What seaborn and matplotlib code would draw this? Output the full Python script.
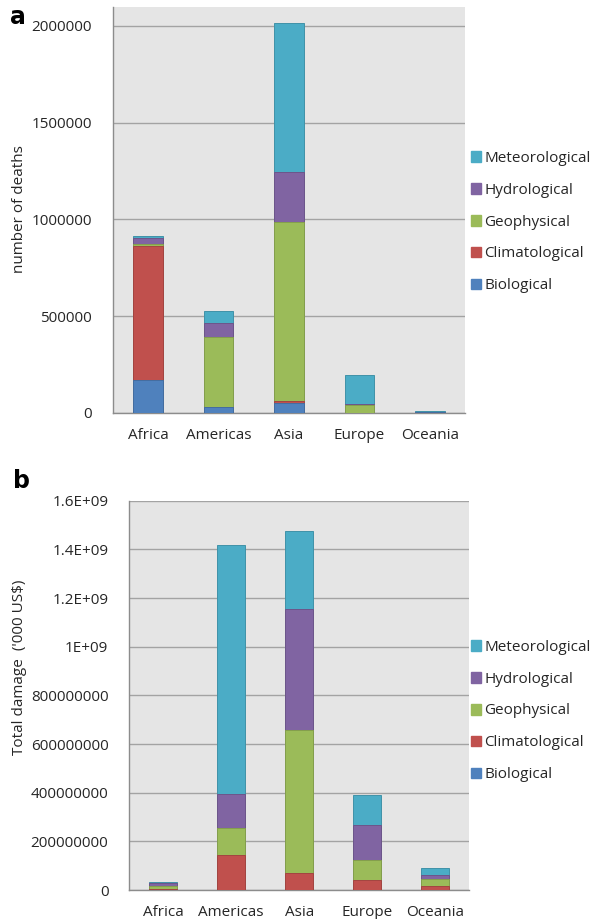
import numpy as np
import pandas as pd
import matplotlib
matplotlib.use("Agg")
import matplotlib.pyplot as plt
import seaborn as sns
from matplotlib.patches import Patch
import matplotlib.colors as mcolors

# ---- data -------------------------------------------------------------
regions = ["Africa", "Americas", "Asia", "Europe", "Oceania"]
hazards = ["Biological", "Climatological", "Geophysical", "Hydrological", "Meteorological"]
hazard_colors = ["#4F81BD", "#C0504D", "#9BBB59", "#8064A2", "#4BACC6"]

# number of deaths by hazard type
deaths_biological = [170000, 27000, 50000, 0, 1500]
deaths_climatological = [693000, 1000, 8600, 0, 0]
deaths_geophysical = [12000, 365000, 929000, 38000, 1500]
deaths_hydrological = [26000, 71000, 257000, 7000, 1500]
deaths_meteorological = [12000, 62000, 772000, 150000, 5000]

# total damage ('000 US$) by hazard type
damage_biological = [0, 0, 0, 0, 0]
damage_climatological = [4e6, 145e6, 71e6, 41e6, 18e6]
damage_geophysical = [14e6, 108e6, 585e6, 81e6, 27e6]
damage_hydrological = [9.6e6, 140e6, 497e6, 145e6, 15e6]
damage_meteorological = [7e6, 1023e6, 323e6, 122e6, 30e6]

deaths_ticks = [0, 500000, 1000000, 1500000, 2000000]
deaths_ticklabels = ["0", "500000", "1000000", "1500000", "2000000"]
damage_ticks = [0, 2e8, 4e8, 6e8, 8e8, 1e9, 1.2e9, 1.4e9, 1.6e9]
damage_ticklabels = ["0", "200000000", "400000000", "600000000", "800000000",
                     "1E+09", "1.2E+09", "1.4E+09", "1.6E+09"]

deaths = pd.DataFrame({
    "region": regions,
    "Biological": deaths_biological,
    "Climatological": deaths_climatological,
    "Geophysical": deaths_geophysical,
    "Hydrological": deaths_hydrological,
    "Meteorological": deaths_meteorological,
})
damage = pd.DataFrame({
    "region": regions,
    "Biological": damage_biological,
    "Climatological": damage_climatological,
    "Geophysical": damage_geophysical,
    "Hydrological": damage_hydrological,
    "Meteorological": damage_meteorological,
})

# ---- styling ------------------------------------------------------------
sns.set_style("white")
plt.rcParams["font.family"] = ["Open Sans", "DejaVu Sans"]
FS = 11
TEXT = "#262626"
GRID = "#a3a3a3"
AXIS = "#8c8c8c"
FACE = "#e5e5e5"

W, H = 607, 919
fig = plt.figure(figsize=(W / 100, H / 100), dpi=100)


def px_axes(left, top, right, bottom):
    return fig.add_axes([left / W, 1 - bottom / H, (right - left) / W, (bottom - top) / H])


def stacked(ax, df, width):
    cum = df[hazards].cumsum(axis=1)
    plot_df = cum.assign(region=df["region"])
    # draw the tallest cumulative layer first so lower layers sit on top of it
    for name, col in reversed(list(zip(hazards, hazard_colors))):
        edge = tuple(c * 0.85 for c in mcolors.to_rgb(col))
        sns.barplot(data=plot_df, x="region", y=name, color=col, saturation=1,
                    width=width, errorbar=None, edgecolor=edge, linewidth=0.7,
                    ax=ax, zorder=3)


def style_axes(ax, ylim, ticks, ticklabels):
    ax.set_facecolor(FACE)
    ax.set_xlim(-0.5, 4.5)
    ax.set_ylim(*ylim)
    ax.set_yticks(ticks)
    ax.set_yticklabels(ticklabels, fontsize=FS, color=TEXT)
    ax.set_xticks(range(len(regions)))
    ax.set_xticklabels(regions, fontsize=FS, color=TEXT)
    ax.set_xticks(np.arange(-0.5, 5.0, 1.0), minor=True)
    ax.tick_params(axis="x", which="major", length=0, pad=11)
    ax.tick_params(axis="x", which="minor", length=5, color=AXIS, width=1, direction="out")
    ax.tick_params(axis="y", length=5, color=AXIS, width=1, direction="out", pad=10)
    ax.yaxis.grid(True, color=GRID, linewidth=1.0, zorder=0)
    ax.set_axisbelow(True)
    for s in ["top", "right"]:
        ax.spines[s].set_visible(False)
    for s in ["left", "bottom"]:
        ax.spines[s].set_color(AXIS)
        ax.spines[s].set_linewidth(1.0)
    ax.set_xlabel("")
    ax.set_ylabel("")


def add_legend(y_top_px):
    handles = [Patch(facecolor=c, edgecolor=c, label=h)
               for h, c in reversed(list(zip(hazards, hazard_colors)))]
    fig.legend(handles=handles, loc="upper left",
               bbox_to_anchor=(466 / W, 1 - y_top_px / H),
               frameon=False, fontsize=FS, labelcolor=TEXT,
               handlelength=0.7, handleheight=0.7, handletextpad=0.2,
               labelspacing=1.11, borderaxespad=0, borderpad=0.3)


# ---- panel a: deaths ----------------------------------------------------
ax1 = px_axes(112.7, 7.3, 465, 412.7)
stacked(ax1, deaths, 0.42)
style_axes(ax1, (0, 2096700), deaths_ticks, deaths_ticklabels)
fig.text(20 / W, 1 - 209 / H, "number of deaths", rotation=90, ha="center",
         va="center", fontsize=FS, color=TEXT)
fig.text(10 / W, 1 - 17 / H, "a", fontsize=17, fontweight="bold",
         ha="left", va="center", color="black", family="DejaVu Sans")
add_legend(146)

# ---- panel b: damage ----------------------------------------------------
ax2 = px_axes(129.3, 500.7, 469, 890)
stacked(ax2, damage, 0.41)
style_axes(ax2, (0, 1.6e9), damage_ticks, damage_ticklabels)
fig.text(20 / W, 1 - 667 / H, "Total damage  ('000 US$)", rotation=90, ha="center",
         va="center", fontsize=FS, color=TEXT)
fig.text(13 / W, 1 - 481 / H, "b", fontsize=17, fontweight="bold",
         ha="left", va="center", color="black", family="DejaVu Sans")
add_legend(635)

fig.savefig("out.png", dpi=100, facecolor="white")
